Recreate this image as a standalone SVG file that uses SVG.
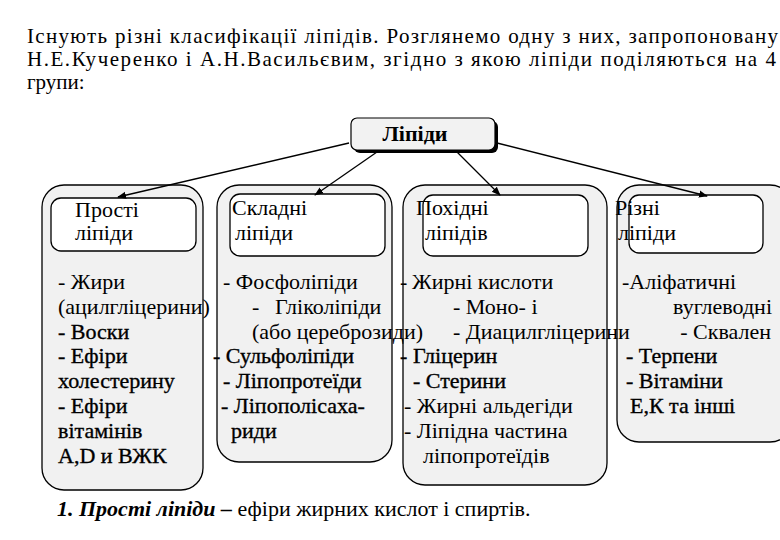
<svg xmlns="http://www.w3.org/2000/svg" width="780" height="540" viewBox="0 0 780 540">
<style>
text{font-family:'Liberation Serif','DejaVu Serif',serif;font-size:22px;fill:#000}
.intro{font-size:21px}
.hv{stroke:#000;stroke-width:0.35}
.outer{fill:#f1f1f1;stroke:#000;stroke-width:1.3}
.inner{fill:#fff;stroke:#000;stroke-width:1.3}
.conn{stroke:#000;stroke-width:1.3;fill:none;marker-end:url(#ah)}
</style>
<defs>
<marker id="ah" viewBox="0 0 10 10" refX="9" refY="5" markerWidth="9" markerHeight="9" markerUnits="userSpaceOnUse" orient="auto">
<path d="M0,1 L10,5 L0,9 z" fill="#000"/>
</marker>
</defs>
<rect width="780" height="540" fill="#fff"/>
<g id="intro">
<text class="intro" x="27" y="43" textLength="751" lengthAdjust="spacing">Існують різні класифікації ліпідів. Розглянемо одну з них, запропоновану</text>
<text class="intro" x="27" y="66" textLength="749" lengthAdjust="spacing">Н.Е.Кучеренко і А.Н.Васильєвим, згідно з якою ліпіди поділяються на 4</text>
<text class="intro" x="27" y="89">групи:</text>
</g>
<g id="node-lipidy">
<rect x="354" y="121" width="144" height="32" rx="6" fill="#000"/>
<rect x="351" y="118" width="144" height="32" rx="6" fill="#f2f2f2" stroke="#000" stroke-width="1.2"/>
<text x="415" y="141" text-anchor="middle" font-weight="bold">Ліпіди</text>
</g>
<g id="node-rizni">
<rect class="outer" x="617" y="185" width="175" height="257" rx="22"/>
<rect class="inner" x="629" y="195" width="134" height="58" rx="10"/>
<text x="615" y="215">Різні</text>
<text x="618" y="240">ліпіди</text>
<text x="622" y="289">-Аліфатичні</text>
<text x="772" y="314" text-anchor="end">вуглеводні</text>
<text x="771" y="339" text-anchor="end">- Сквален</text>
<text x="626" y="363" class="hv">- Терпени</text>
<text x="626" y="388" class="hv">- Вітаміни</text>
<text x="630" y="413" class="hv">Е,К та інші</text>
</g>
<g id="node-pokhidni">
<rect class="outer" x="403" y="185" width="204" height="300" rx="22"/>
<rect class="inner" x="423" y="195" width="165" height="61" rx="10"/>
<text x="416" y="215">Похідні</text>
<text x="425" y="240">ліпідів</text>
<text x="400" y="289">-</text>
<text x="412" y="289">Жирні кислоти</text>
<text x="453" y="314">- Моно- і</text>
<text x="453" y="339">- Диацилгліцерини</text>
<text x="400" y="363" class="hv">-</text>
<text x="413" y="363" class="hv">Гліцерин</text>
<text x="413" y="388" class="hv">- Стерини</text>
<text x="404" y="413">- Жирні альдегіди</text>
<text x="404" y="438">- Ліпідна частина</text>
<text x="423" y="463">ліпопротеїдів</text>
</g>
<g id="node-skladni">
<rect class="outer" x="217" y="185" width="175" height="277" rx="22"/>
<rect class="inner" x="230" y="194" width="155" height="62" rx="10"/>
<text x="232" y="215">Складні</text>
<text x="235" y="240">ліпіди</text>
<text x="223" y="289">- Фосфоліпіди</text>
<text x="252" y="314">-</text>
<text x="275" y="314">Гліколіпіди</text>
<text x="252" y="339">(або цереброзиди)</text>
<text x="213" y="363" class="hv">- Сульфоліпіди</text>
<text x="223" y="388" class="hv">- Ліпопротеїди</text>
<text x="221" y="413" class="hv">- Ліпополісаха-</text>
<text x="231" y="438" class="hv">риди</text>
</g>
<g id="node-prosti">
<rect class="outer" x="42" y="185" width="161" height="305" rx="22"/>
<rect class="inner" x="51" y="198" width="145" height="53" rx="10"/>
<text x="75" y="217">Прості</text>
<text x="75" y="240">ліпіди</text>
<text x="58" y="289">- Жири</text>
<text x="58" y="314">(ацилгліцерини)</text>
<text x="58" y="339" class="hv">- Воски</text>
<text x="58" y="363" class="hv">- Ефіри</text>
<text x="58" y="388" class="hv">холестерину</text>
<text x="58" y="413" class="hv">- Ефіри</text>
<text x="58" y="438" class="hv">вітамінів</text>
<text x="58" y="463" class="hv">A,D и ВЖК</text>
</g>
<g id="connectors">
<line class="conn" x1="349" y1="143" x2="118" y2="197"/>
<line class="conn" x1="377" y1="152" x2="315" y2="195"/>
<line class="conn" x1="457" y1="152" x2="500" y2="195"/>
<line class="conn" x1="497" y1="143" x2="707" y2="196"/>
</g>
<g id="footer">
<text x="57" y="516"><tspan font-weight="bold" font-style="italic">1. Прості ліпіди –</tspan> ефіри жирних кислот і спиртів.</text>
</g>
</svg>
